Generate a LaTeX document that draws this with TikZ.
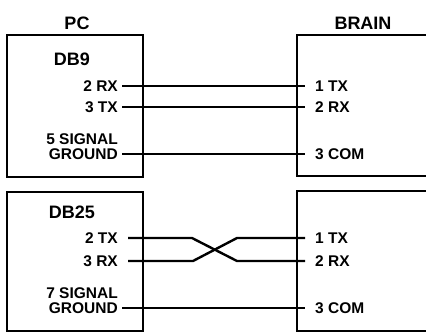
\documentclass[tikz,border=0pt]{standalone}
\usepackage{fontspec}
\setmainfont{Liberation Sans}
\begin{document}
\begin{tikzpicture}
    [   x=1pt,y=-1pt,
        title/.style={font=\fontsize{18}{18}\selectfont\bfseries,inner sep=0pt},
        pin/.style={font=\fontsize{15.5}{15.5}\selectfont\bfseries,inner ysep=0pt,inner xsep=#1},
        pin/.default=0pt,
        wire/.style={line width=2.4pt},
        frame/.style={line width=1.4pt},
    ]
        \useasboundingbox (0,0) rectangle (426,333);
        % boxes
        \draw[frame] (7,35) rectangle (143,177);
        \draw[frame] (430,35) -- (297,35) -- (297,176) -- (430,176);
        \draw[frame] (7,192) rectangle (143,331);
        \draw[frame] (430,191) -- (297,191) -- (297,331) -- (430,331);
        % titles
        \node[title] (pc) at (77,23) {PC};
        \node[title] (brain) at (363,23) {BRAIN};
        \node[title] (db9) at (72,59) {DB9};
        \node[title] (db25) at (72,212) {DB25};
        % DB9
        \foreach \y/\l/\r [count=\i] in {86/2 RX/1 TX,107/3 TX/2 RX,154/GROUND/3 COM}
        {   \node[pin=4pt,anchor=east] (p-\i) at (122,\y) {\l};
            \node[pin=10pt,anchor=west] (b-\i) at (305,\y) {\r};
            \draw[wire] (p-\i.east) -- (b-\i.west);
        }
        \node[pin,anchor=east] (p-sig) at (118,139) {5 SIGNAL};
        % DB25
        \foreach \y/\l/\r/\g [count=\i] in {238/2 TX/1 TX/10pt,261/3 RX/2 RX/10pt,308/GROUND/3 COM/4pt}
        {   \node[pin=\g,anchor=east] (q-\i) at ([xshift=\g]118,\y) {\l};
            \node[pin=10pt,anchor=west] (c-\i) at (305,\y) {\r};
        }
        \node[pin,anchor=east] (q-sig) at (118,293) {7 SIGNAL};
        \draw[wire] (q-1.east) -- (192,238) -- (237,261) -- (c-2.west);
        \draw[wire] (q-2.east) -- (193,261) -- (237,238) -- (c-1.west);
        \draw[wire] (q-3.east) -- (c-3.west);
  \end{tikzpicture}
\end{document}
